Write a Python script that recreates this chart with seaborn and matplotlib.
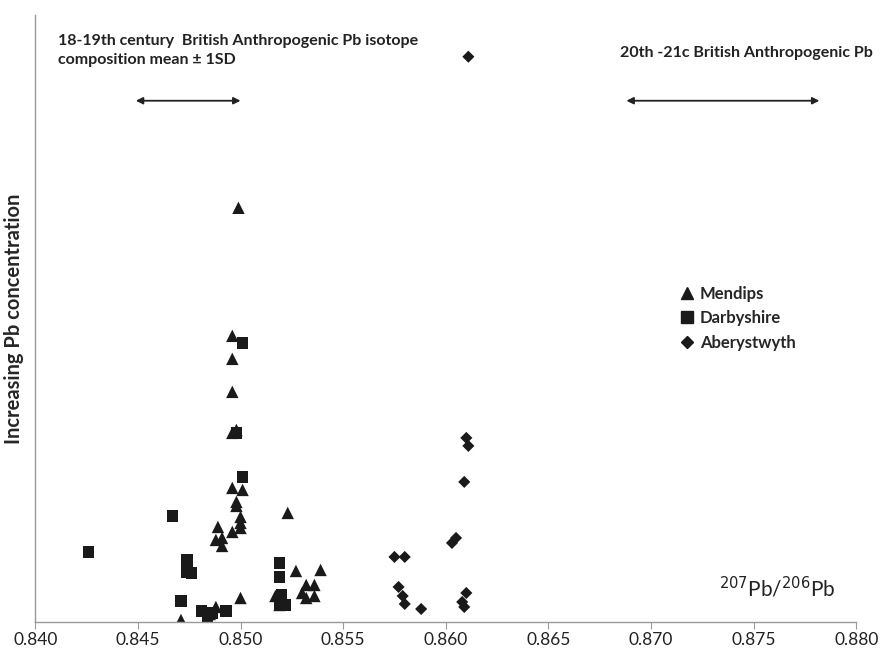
import pandas as pd
import matplotlib.pyplot as plt
import seaborn as sns
from matplotlib.lines import Line2D

# Pb isotope ratio (207Pb/206Pb) vs relative Pb concentration (arbitrary units)
mendips_x = [0.8499, 0.8496, 0.8496, 0.8496, 0.8496, 0.8498, 0.8496, 0.8501, 0.8498, 0.8498,
             0.8500, 0.8500, 0.8500, 0.8496, 0.8489, 0.8488, 0.8491, 0.8491, 0.8523, 0.8500,
             0.8471, 0.8488, 0.8527, 0.8539, 0.8532, 0.8536, 0.8530, 0.8536, 0.8532, 0.8517,
             0.8519, 0.8485]
mendips_y = [414, 286, 263, 230, 189, 192, 134, 132, 120, 116,
             105, 99, 94, 90, 95, 82, 84, 76, 109, 24,
             2, 15, 51, 52, 37, 37, 29, 26, 24, 26,
             17, 8]

darby_x = [0.8501, 0.8498, 0.8501, 0.8467, 0.8426, 0.8474, 0.8474, 0.8476, 0.8471, 0.8481,
           0.8486, 0.8484, 0.8493, 0.8519, 0.8519, 0.8520, 0.8522, 0.8519]
darby_y = [279, 189, 145, 106, 70, 62, 50, 49, 21, 11,
           9, 5, 11, 59, 45, 27, 17, 17]

aber_x = [0.8611, 0.8610, 0.8611, 0.8609, 0.8605, 0.8603, 0.8575, 0.8580, 0.8577, 0.8579,
          0.8580, 0.8588, 0.8610, 0.8608, 0.8609]
aber_y = [565, 184, 176, 140, 84, 79, 65, 65, 35, 26,
          18, 13, 29, 20, 15]

sites = ["Mendips", "Darbyshire", "Aberystwyth"]
x_ticks = [0.840, 0.845, 0.850, 0.855, 0.860, 0.865, 0.870, 0.875, 0.880]

# 18-19th c. and 20th-21st c. British anthropogenic ranges
old_range = [0.8449, 0.8500]
new_range = [0.8688, 0.8782]

df = pd.DataFrame({
    "ratio": mendips_x + darby_x + aber_x,
    "conc": mendips_y + darby_y + aber_y,
    "site": ["Mendips"] * len(mendips_x) + ["Darbyshire"] * len(darby_x) + ["Aberystwyth"] * len(aber_x),
})

sns.set_style("white")
plt.rcParams["font.family"] = ["Lato", "DejaVu Sans"]

fig = plt.figure(figsize=(8.81, 6.53), dpi=100)
ax = fig.add_axes([0.040, 0.0475, 0.932, 0.93])

sns.scatterplot(data=df, x="ratio", y="conc", style="site", style_order=sites,
                markers={"Mendips": "^", "Darbyshire": "s", "Aberystwyth": "D"},
                size="site", sizes={"Mendips": 80, "Darbyshire": 68, "Aberystwyth": 38},
                color="#1a1a1a", edgecolor="none", legend=False, ax=ax)

ax.set_xlim(0.840, 0.880)
ax.set_ylim(0, 607)
ax.set_xticks(x_ticks)
ax.set_xticklabels([f"{t:.3f}" for t in x_ticks], fontsize=12.5, color="#222222")
ax.set_yticks([])
ax.set_xlabel("")
ax.set_ylabel("Increasing Pb concentration", fontsize=14.5, fontweight="bold", labelpad=8)
ax.tick_params(axis="x", bottom=True, direction="out", length=5, color="#999999", pad=2)
for side in ["top", "right"]:
    ax.spines[side].set_visible(False)
for side in ["left", "bottom"]:
    ax.spines[side].set_color("#999999")
    ax.spines[side].set_linewidth(1.0)

arrow_y = 521
for rng in [old_range, new_range]:
    ax.annotate("", xy=(rng[0], arrow_y), xytext=(rng[1], arrow_y),
                arrowprops=dict(arrowstyle="<|-|>", color="#222222", lw=1.3,
                                mutation_scale=10, shrinkA=0, shrinkB=0))

ax.text(0.8411, 588, "18-19th century  British Anthropogenic Pb isotope\ncomposition mean \u00b1 1SD",
        fontsize=11.5, fontweight="bold", color="#222222", va="top", linespacing=1.5)
ax.text(0.8685, 569, "20th -21c British Anthropogenic Pb", fontsize=11.5, fontweight="bold",
        color="#222222", va="center")
ax.text(0.8733, 34, r"$^{207}$Pb/$^{206}$Pb", fontsize=15, color="#222222", va="center")

# legend drawn by hand
handles = [Line2D([], [], marker=m, ls="", color="#1a1a1a", markersize=ms)
           for m, ms in [("^", 9), ("s", 8.5), ("D", 6.5)]]
leg = ax.legend(handles, sites, loc="upper left", bbox_to_anchor=(0.765, 0.578), frameon=False,
                handletextpad=0.3, labelspacing=0.5, handlelength=1.0,
                prop={"weight": "bold", "size": 12})

fig.savefig("out.png", dpi=100)
